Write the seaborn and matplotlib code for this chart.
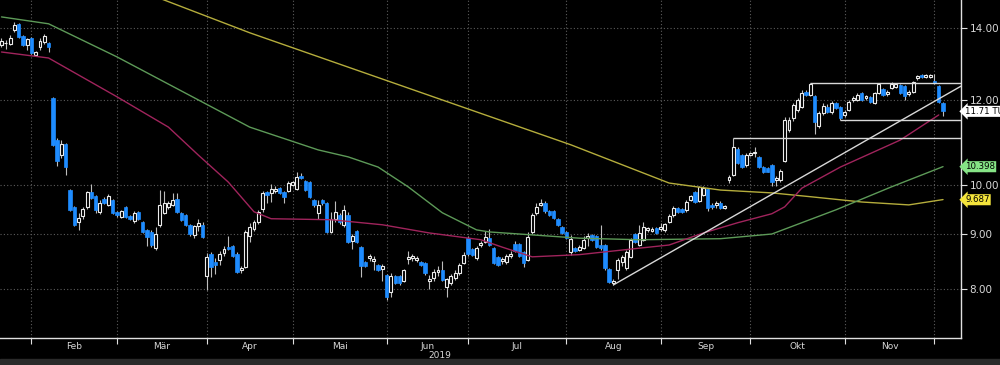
import matplotlib
matplotlib.use("Agg")
import matplotlib.pyplot as plt
from matplotlib.patches import Rectangle
import numpy as np
import pandas as pd
import seaborn as sns

##################################### Data #####################################

# Daily candles (trading-day order)
opens = [13.50, 13.55, 13.53, 13.95, 14.12, 13.77, 13.50, 13.70, 13.22, 13.45, 13.59, 13.56,
         12.05, 11.01, 10.66, 10.92, 9.89, 9.54, 9.24, 9.36, 9.54, 9.85, 9.77, 9.44,
         9.70, 9.58, 9.68, 9.44, 9.34, 9.54, 9.36, 9.26, 9.44, 9.24, 9.08, 9.04,
         8.74, 9.18, 9.42, 9.54, 9.58, 9.70, 9.42, 9.38, 9.18, 8.98, 9.16, 9.18,
         8.23, 8.63, 8.47, 8.51, 8.64, 8.75, 8.77, 8.63, 8.33, 8.38, 8.96, 9.10,
         9.24, 9.50, 9.85, 9.83, 9.87, 9.93, 9.85, 9.87, 10.00, 9.91, 10.20, 10.09,
         10.06, 9.68, 9.42, 9.68, 9.62, 9.04, 9.30, 9.38, 9.18, 9.38, 8.86, 9.06,
         8.75, 8.47, 8.55, 8.49, 8.42, 8.35, 8.24, 7.95, 8.22, 8.22, 8.14, 8.53,
         8.55, 8.51, 8.47, 8.45, 8.14, 8.19, 8.30, 8.33, 8.04, 8.10, 8.19, 8.28,
         8.46, 8.93, 8.72, 8.55, 8.79, 8.85, 8.93, 8.74, 8.57, 8.49, 8.48, 8.59,
         8.81, 8.81, 8.65, 8.51, 9.04, 9.42, 9.58, 9.62, 9.46, 9.46, 9.30, 9.14,
         9.04, 8.65, 8.74, 8.70, 8.74, 8.93, 8.98, 8.96, 8.79, 8.79, 8.35, 8.11,
         8.33, 8.47, 8.36, 8.57, 9.00, 8.79, 8.89, 9.08, 9.06, 9.12, 9.10, 9.08,
         9.24, 9.38, 9.52, 9.50, 9.48, 9.68, 9.85, 9.66, 9.79, 9.91, 9.58, 9.58,
         9.62, 9.52, 10.11, 10.22, 10.81, 10.66, 10.44, 10.66, 10.70, 10.62, 10.40, 10.37,
         10.44, 10.11, 10.11, 10.53, 11.25, 11.54, 11.75, 11.82, 12.21, 12.13, 12.10, 11.35,
         11.67, 11.82, 11.70, 11.92, 11.82, 11.62, 11.75, 12.00, 12.00, 12.18, 12.05, 12.08,
         11.92, 12.18, 12.28, 12.15, 12.31, 12.33, 12.39, 12.36, 12.15, 12.21, 12.57, 12.66,
         12.60, 12.60, 12.50, 12.36, 11.92]
highs = [13.70, 13.65, 13.78, 14.18, 14.15, 13.80, 13.70, 13.73, 13.33, 13.72, 13.83, 13.60,
         12.08, 11.05, 11.01, 10.95, 9.91, 9.56, 9.42, 9.54, 9.87, 10.02, 9.79, 9.68,
         9.74, 9.81, 9.70, 9.46, 9.48, 9.56, 9.38, 9.46, 9.46, 9.26, 9.10, 9.08,
         9.14, 9.89, 9.87, 9.66, 9.83, 9.83, 9.44, 9.40, 9.20, 9.18, 9.30, 9.24,
         8.64, 8.65, 8.55, 8.67, 8.77, 8.96, 8.79, 8.65, 8.40, 9.08, 9.22, 9.28,
         9.48, 9.87, 9.87, 10.02, 9.97, 9.95, 9.87, 10.08, 10.08, 10.28, 10.26, 10.11,
         10.08, 9.70, 9.68, 9.70, 9.64, 9.44, 9.66, 9.42, 9.58, 9.44, 9.00, 9.08,
         8.77, 8.49, 8.63, 8.59, 8.44, 8.44, 8.26, 8.28, 8.24, 8.24, 8.35, 8.67,
         8.63, 8.59, 8.49, 8.47, 8.24, 8.35, 8.40, 8.49, 8.19, 8.26, 8.33, 8.45,
         8.65, 8.96, 8.74, 8.77, 8.87, 9.06, 9.10, 8.76, 8.59, 8.57, 8.63, 8.67,
         8.87, 8.83, 8.67, 9.04, 9.42, 9.62, 9.70, 9.66, 9.48, 9.48, 9.32, 9.16,
         9.06, 8.98, 8.76, 8.79, 8.96, 9.02, 9.00, 8.98, 9.18, 8.81, 8.37, 8.18,
         8.55, 8.61, 8.70, 8.93, 9.02, 9.18, 9.24, 9.14, 9.14, 9.14, 9.22, 9.22,
         9.40, 9.56, 9.54, 9.52, 9.68, 9.79, 9.87, 9.97, 9.97, 9.93, 9.62, 9.66,
         9.66, 9.58, 10.22, 11.06, 10.84, 10.68, 10.70, 10.74, 10.84, 10.64, 10.42, 10.40,
         10.46, 10.20, 10.35, 11.58, 11.56, 11.92, 12.05, 12.26, 12.26, 12.44, 12.13, 11.72,
         11.92, 11.90, 11.97, 11.95, 11.84, 11.75, 12.00, 12.10, 12.18, 12.21, 12.13, 12.10,
         12.21, 12.44, 12.31, 12.26, 12.46, 12.44, 12.41, 12.39, 12.26, 12.49, 12.66, 12.68,
         12.70, 12.68, 12.68, 12.39, 11.95]
lows = [13.45, 13.40, 13.50, 13.87, 13.70, 13.47, 13.36, 13.25, 13.19, 13.36, 13.52, 13.30,
        10.88, 10.42, 10.60, 10.22, 9.46, 9.16, 9.08, 9.30, 9.50, 9.70, 9.42, 9.40,
        9.60, 9.55, 9.40, 9.34, 9.32, 9.32, 9.28, 9.22, 9.28, 9.02, 8.77, 8.75,
        8.70, 9.14, 9.40, 9.50, 9.55, 9.42, 9.26, 9.16, 8.96, 8.92, 9.06, 8.93,
        7.98, 8.21, 8.26, 8.42, 8.58, 8.70, 8.56, 8.28, 8.28, 8.36, 8.85, 9.06,
        9.20, 9.44, 9.62, 9.64, 9.83, 9.81, 9.62, 9.85, 9.98, 9.89, 10.13, 9.87,
        9.73, 9.54, 9.30, 9.58, 9.02, 9.02, 9.24, 9.20, 9.14, 8.82, 8.72, 8.82,
        8.21, 8.38, 8.49, 8.33, 8.31, 8.14, 7.82, 7.87, 8.08, 8.06, 8.12, 8.44,
        8.50, 8.47, 8.40, 8.25, 7.99, 8.14, 8.22, 8.14, 7.86, 8.06, 8.16, 8.24,
        8.43, 8.59, 8.58, 8.51, 8.75, 8.83, 8.77, 8.44, 8.40, 8.44, 8.44, 8.55,
        8.65, 8.57, 8.38, 8.49, 9.00, 9.38, 9.55, 9.42, 9.36, 9.30, 9.16, 9.00,
        8.91, 8.61, 8.66, 8.68, 8.72, 8.77, 8.87, 8.73, 8.70, 8.34, 8.10, 8.07,
        8.18, 8.40, 8.34, 8.55, 8.83, 8.77, 8.87, 9.04, 9.04, 9.00, 9.06, 9.04,
        9.22, 9.34, 9.42, 9.42, 9.44, 9.66, 9.62, 9.64, 9.77, 9.46, 9.50, 9.52,
        9.50, 9.50, 10.04, 10.20, 10.47, 10.37, 10.40, 10.64, 10.62, 10.38, 10.26, 10.27,
        9.98, 9.98, 10.07, 10.51, 11.20, 11.47, 11.70, 11.80, 12.10, 12.10, 11.16, 11.30,
        11.62, 11.67, 11.65, 11.77, 11.50, 11.58, 11.72, 11.95, 11.97, 11.97, 12.00, 11.92,
        11.90, 12.15, 12.10, 12.10, 12.28, 12.30, 12.15, 12.00, 12.10, 12.18, 12.53, 12.57,
        12.57, 12.57, 12.41, 11.92, 11.60]
closes = [13.62, 13.57, 13.72, 14.10, 13.74, 13.50, 13.68, 13.28, 13.30, 13.62, 13.77, 13.45,
          10.90, 10.53, 10.92, 10.40, 9.48, 9.18, 9.32, 9.50, 9.85, 9.72, 9.48, 9.62,
          9.62, 9.77, 9.42, 9.38, 9.46, 9.34, 9.30, 9.42, 9.30, 9.04, 8.95, 8.79,
          9.00, 9.58, 9.62, 9.62, 9.68, 9.44, 9.28, 9.18, 9.00, 9.16, 9.22, 8.95,
          8.57, 8.39, 8.42, 8.63, 8.72, 8.72, 8.58, 8.30, 8.36, 9.04, 9.13, 9.24,
          9.44, 9.83, 9.79, 9.91, 9.91, 9.83, 9.75, 10.04, 10.06, 10.18, 10.15, 9.89,
          9.75, 9.58, 9.58, 9.62, 9.04, 9.30, 9.44, 9.24, 9.48, 8.84, 8.96, 8.84,
          8.40, 8.40, 8.58, 8.53, 8.33, 8.40, 7.87, 8.22, 8.10, 8.10, 8.33, 8.57,
          8.59, 8.55, 8.42, 8.27, 8.18, 8.30, 8.33, 8.16, 8.17, 8.22, 8.28, 8.42,
          8.61, 8.63, 8.61, 8.74, 8.83, 8.94, 8.79, 8.46, 8.42, 8.53, 8.59, 8.63,
          8.67, 8.59, 8.46, 8.94, 9.38, 9.54, 9.62, 9.46, 9.38, 9.32, 9.18, 9.02,
          8.93, 8.91, 8.68, 8.75, 8.89, 8.96, 8.89, 8.75, 8.74, 8.36, 8.12, 8.14,
          8.51, 8.57, 8.66, 8.89, 8.85, 9.02, 9.14, 9.12, 9.10, 9.02, 9.14, 9.20,
          9.36, 9.52, 9.44, 9.44, 9.64, 9.77, 9.64, 9.95, 9.93, 9.52, 9.54, 9.62,
          9.52, 9.56, 10.18, 10.84, 10.49, 10.40, 10.66, 10.70, 10.74, 10.40, 10.29, 10.29,
          10.07, 10.15, 10.31, 11.50, 11.50, 11.87, 12.00, 12.18, 12.13, 12.41, 11.45, 11.67,
          11.84, 11.70, 11.92, 11.80, 11.54, 11.70, 11.95, 12.05, 12.13, 12.00, 12.10, 11.95,
          12.18, 12.41, 12.13, 12.21, 12.41, 12.41, 12.18, 12.10, 12.21, 12.46, 12.63, 12.60,
          12.66, 12.66, 12.44, 11.95, 11.71]
days = list(range(len(opens)))

# Moving averages (sampled along the curves)
ma200_days = [0, 38, 58, 133, 156, 168, 180, 189, 201, 212, 220]
ma200_vals = [16.95, 14.87, 13.86, 10.90, 10.04, 9.89, 9.83, 9.75, 9.64, 9.58, 9.69]
ma100_days = [0, 11, 27, 46, 58, 74, 81, 88, 95, 103, 111, 114, 135, 149, 168, 180, 195, 208, 220]
ma100_vals = [14.34, 14.13, 13.16, 12.00, 11.32, 10.78, 10.62, 10.39, 9.96, 9.42, 9.08, 9.04,
              8.92, 8.89, 8.91, 9.00, 9.48, 9.96, 10.40]
ma50_days = [0, 11, 27, 39, 46, 53, 59, 63, 77, 89, 100, 112, 117, 124, 135, 149, 156,
             164, 172, 180, 183, 187, 196, 210, 219]
ma50_vals = [13.30, 13.13, 12.08, 11.32, 10.66, 10.06, 9.44, 9.30, 9.28, 9.18, 9.02, 8.89,
             8.75, 8.57, 8.61, 8.73, 8.79, 9.02, 9.22, 9.40, 9.54, 9.93, 10.39, 11.01, 11.62]

# Drawn trend line and horizontal rays
trend_days = [143, 224.2]
trend_vals = [8.07, 12.36]
ray_days = [189, 196, 171]
ray_vals = [12.44, 11.50, 11.06]

# Right-hand price tags
tag_vals = [11.71, 10.398, 9.687]
tag_texts = ["11.71 TUI", "10.398", "9.687"]
tag_colors = ["#ffffff", "#86e486", "#f4e43c"]

# Axes
month_starts = [7, 27, 48, 68, 90, 109, 132, 154, 175, 197, 218]
month_labels = ["Feb", "Mär", "Apr", "Mai", "Jun", "Jul", "Aug", "Sep", "Okt", "Nov"]
year_label = "2019"
y_ticks = [8, 9, 10, 12, 14]
y_tick_labels = ["8.00", "9.00", "10.00", "12.00", "14.00"]

##################################### Plot #####################################

sns.set_theme(style="dark")
plt.rcParams["font.family"] = ["Liberation Sans Narrow", "DejaVu Sans Condensed", "DejaVu Sans"]

fig = plt.figure(figsize=(10, 3.65), dpi=100, facecolor="black")
ax = fig.add_axes([0, 27 / 365, 0.961, 338 / 365])
ax.set_facecolor("black")
ax.set_yscale("log")
ax.set_xlim(-0.35, 224.2)
ax.set_ylim(7.20, 14.87)

# Grid
ax.set_xticks(month_starts)
ax.set_yticks(y_ticks)
ax.yaxis.set_minor_locator(matplotlib.ticker.NullLocator())
ax.grid(True, which="major", color="#5c5c5c", linestyle=(0, (1, 2)), linewidth=0.8)

# Candles
df = pd.DataFrame(dict(day=days, open=opens, high=highs, low=lows, close=closes))
up = df[df["close"] >= df["open"]]
dn = df[df["close"] < df["open"]]
ax.vlines(df["day"], df["low"], df["high"], color="#bdbdbd", linewidth=0.8, zorder=2)
ax.bar(up["day"], up["close"] - up["open"], bottom=up["open"], width=0.68,
       color="black", edgecolor="#ececec", linewidth=0.8, zorder=3)
ax.bar(dn["day"], dn["open"] - dn["close"], bottom=dn["close"], width=0.8,
       color="#1e8cff", edgecolor="#1e8cff", linewidth=0.5, zorder=3)

# Moving averages
sns.lineplot(x=ma200_days, y=ma200_vals, color="#b5ad3c", linewidth=1.0, ax=ax, zorder=4)
sns.lineplot(x=ma100_days, y=ma100_vals, color="#5d9a58", linewidth=1.0, ax=ax, zorder=4)
sns.lineplot(x=ma50_days, y=ma50_vals, color="#a0245c", linewidth=1.0, ax=ax, zorder=4)

# Trend line & rays
ax.plot(trend_days, trend_vals, color="#d8d8d8", linewidth=1.0, zorder=5)
ax.hlines(ray_vals, ray_days, 224.2, color="#d8d8d8", linewidth=1.0, zorder=5)

# Spines
for side in ["top", "left"]:
    ax.spines[side].set_visible(False)
for side in ["right", "bottom"]:
    ax.spines[side].set_visible(True)
    ax.spines[side].set_color("#e0e0e0")
    ax.spines[side].set_linewidth(1.0)

# Y axis on the right
ax.yaxis.tick_right()
ax.set_yticklabels(y_tick_labels)
ax.tick_params(axis="y", which="major", right=True, left=False, length=4, width=0.8,
               color="#e0e0e0", labelcolor="#d8d8d8", labelsize=7.5, pad=2)

# X axis: month boundaries ticks, labels in between
ax.xaxis.set_major_formatter(matplotlib.ticker.NullFormatter())
ax.tick_params(axis="x", which="major", bottom=True, length=4, width=0.8, color="#e0e0e0")
mids = [(a + b) / 2 for a, b in zip(month_starts[:-1], month_starts[1:])]
ax.set_xticks(mids, minor=True)
ax.set_xticklabels(month_labels, minor=True)
ax.tick_params(axis="x", which="minor", bottom=True, length=0, labelcolor="#d8d8d8",
               labelsize=6.5, pad=3)
ax.set_xlabel("")
ax.set_ylabel("")
fig.text(0.44, 10 / 365, year_label, ha="center", va="center", color="#d8d8d8", fontsize=6.5)

# Price tags
for val, txt, col in zip(tag_vals, tag_texts, tag_colors):
    ax.annotate(txt, xy=(1.0, val), xycoords=("axes fraction", "data"),
                xytext=(3, 0), textcoords="offset points", ha="left", va="center",
                fontsize=6.2, color="black", annotation_clip=False,
                bbox=dict(boxstyle="larrow,pad=0.12", fc=col, ec="none"))

# Bottom status strip
fig.patches.append(Rectangle((0, 0), 1, 6 / 365, transform=fig.transFigure,
                             color="#2a2a2a", zorder=0))

fig.savefig("out.png", dpi=100, facecolor="black")
